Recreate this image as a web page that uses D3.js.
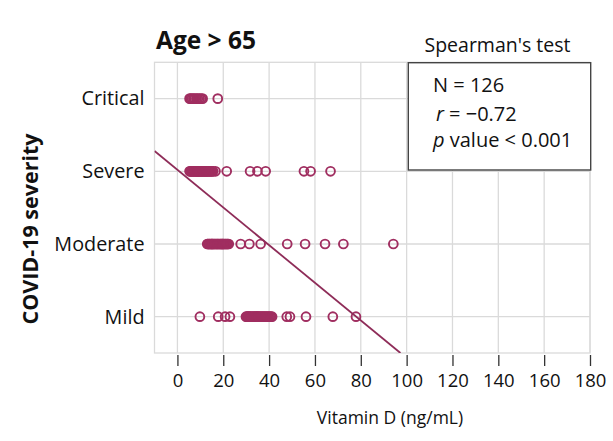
<!DOCTYPE html>
<html>
<head>
<meta charset="utf-8">
<script src="https://cdn.jsdelivr.net/npm/d3@7"></script>
<style>
  body { margin: 0; background: #ffffff; }
  text { font-family: "Open Sans", "Noto Sans", sans-serif; fill: #111; }
</style>
</head>
<body>
<svg id="chart" width="613" height="441"></svg>
<script>
// severity levels, bottom to top
const categories = ["Mild", "Moderate", "Severe", "Critical"];

// vitamin D values (ng/mL), one array per severity level
const critical = [5.3, 5.8, 6.4, 7.0, 7.6, 8.3, 8.9, 9.6, 10.3, 11.0, 17.6];
const severe = [5.3, 5.6, 6.0, 6.3, 6.7, 7.0, 7.4, 7.7, 8.1, 8.4, 8.8, 9.0, 9.1, 9.5, 9.8,
                10.2, 10.5, 10.9, 11.2, 11.6, 11.9, 12.3, 12.7, 13.0, 13.4, 13.8, 14.2,
                14.7, 15.1, 15.6, 16.6, 21.5, 31.7, 34.9, 38.5, 55.2, 58.1, 66.8];
const moderate = [13.0, 13.3, 13.6, 13.9, 14.2, 14.5, 14.9, 15.0, 15.2, 15.5, 15.8, 16.1,
                  16.4, 16.8, 17.1, 17.4, 17.7, 18.0, 18.4, 18.7, 19.0, 19.3, 19.5, 19.7,
                  20.0, 20.3, 20.7, 21.0, 21.3, 21.7, 22.0, 22.4, 27.6, 31.4, 36.3, 47.9,
                  55.7, 64.4, 72.4, 94.2];
const mild = [9.8, 17.8, 20.8, 22.9, 29.9, 30.3, 30.8, 31.0, 31.2, 31.7, 32.1, 32.6, 33.0,
              33.5, 33.9, 34.4, 34.8, 35.0, 35.3, 35.7, 36.2, 36.6, 37.1, 37.5, 38.0, 38.4,
              38.9, 39.3, 39.8, 40.3, 40.8, 41.3, 47.7, 49.1, 56.1, 67.8, 77.9];

const xTicks = [0, 20, 40, 60, 80, 100, 120, 140, 160, 180];

// fitted line: severity level = intercept + slope * vitamin D
const fitIntercept = 3.02;
const fitSlope = -0.0259;

const statsLines = ["N = 126", "r = \u22120.72", "p value < 0.001"];

// ------------------------------------------------------------------
const svg = d3.select("#chart");
const margin = {left: 154.5, right: 23, top: 62.3, bottom: 88};
const W = 613 - margin.left - margin.right;
const H = 441 - margin.top - margin.bottom;

const x = d3.scaleLinear().domain([-10, 180]).range([0, W]);
const y = d3.scaleLinear().domain([0.5, 4.5]).range([H, 0]);

const g = svg.append("g").attr("transform", `translate(${margin.left},${margin.top})`);

svg.append("defs").append("clipPath").attr("id", "clip")
  .append("rect").attr("width", W).attr("height", H);

const gridColor = "#dadada";

// panel border
g.append("rect").attr("width", W).attr("height", H)
  .attr("fill", "#fff").attr("stroke", gridColor).attr("stroke-width", 1.3);

// grid lines
g.selectAll("line.vgrid").data(xTicks).join("line")
  .attr("class", "vgrid")
  .attr("x1", d => x(d)).attr("x2", d => x(d))
  .attr("y1", 0).attr("y2", H)
  .attr("stroke", gridColor).attr("stroke-width", 1.3);

g.selectAll("line.hgrid").data(categories).join("line")
  .attr("class", "hgrid")
  .attr("x1", 0).attr("x2", W)
  .attr("y1", (d, i) => y(i + 1)).attr("y2", (d, i) => y(i + 1))
  .attr("stroke", gridColor).attr("stroke-width", 1.3);

// points
const groups = [mild, moderate, severe, critical];
const pts = [];
groups.forEach((arr, i) => arr.forEach(v => pts.push({v: v, level: i + 1})));

const markColor = "#a02e60";
g.append("g").selectAll("circle").data(pts).join("circle")
  .attr("cx", d => x(d.v)).attr("cy", d => y(d.level))
  .attr("r", 4.4)
  .attr("fill", "none")
  .attr("stroke", markColor).attr("stroke-width", 1.9);

// regression line, clipped to the panel
const xEnd = (0.5 - fitIntercept) / fitSlope;
g.append("line")
  .attr("clip-path", "url(#clip)")
  .attr("x1", x(-10)).attr("y1", y(fitIntercept + fitSlope * -10))
  .attr("x2", x(xEnd)).attr("y2", y(0.5))
  .attr("stroke", "#8e2c58").attr("stroke-width", 1.8);

// x axis
const xAxis = g.append("g").attr("transform", `translate(0,${H + 2})`)
  .call(d3.axisBottom(x).tickValues(xTicks).tickSize(11).tickPadding(8));
xAxis.select(".domain").remove();
xAxis.selectAll(".tick line").attr("stroke", "#333").attr("stroke-width", 1.3);
xAxis.selectAll(".tick text").attr("font-size", 18.5).attr("fill", "#111")
  .attr("font-family", "Open Sans, Noto Sans, sans-serif");

// y axis (labels only)
const yAxis = g.append("g")
  .call(d3.axisLeft(y).tickValues([1, 2, 3, 4]).tickSize(0).tickPadding(10)
    .tickFormat(d => categories[d - 1]));
yAxis.select(".domain").remove();
yAxis.selectAll(".tick text").attr("font-size", 19.8).attr("fill", "#111")
  .attr("font-family", "Open Sans, Noto Sans, sans-serif");

// axis titles
svg.append("text")
  .attr("x", 390).attr("y", 424)
  .attr("text-anchor", "middle").attr("font-size", 17.5)
  .text("Vitamin D (ng/mL)");

svg.append("text")
  .attr("transform", "translate(38,229) rotate(-90)")
  .attr("text-anchor", "middle").attr("font-size", 21.5).attr("font-weight", "bold")
  .text("COVID-19 severity");

// title
svg.append("text")
  .attr("x", 156).attr("y", 48.5)
  .attr("font-size", 24.5).attr("font-weight", "bold")
  .text("Age > 65");

// stats box
svg.append("text")
  .attr("x", 497.5).attr("y", 51.5)
  .attr("text-anchor", "middle").attr("font-size", 19.5)
  .text("Spearman's test");

svg.append("rect")
  .attr("x", 408.3).attr("y", 62.7).attr("width", 182.4).attr("height", 107.3)
  .attr("fill", "#fff").attr("stroke", "#444").attr("stroke-width", 1.4);

const statsY = [92, 120.5, 147];
const st = svg.append("g").attr("font-size", 20);
st.append("text").attr("x", 433).attr("y", statsY[0]).text(statsLines[0]);

const r = st.append("text").attr("x", 436).attr("y", statsY[1]);
r.append("tspan").attr("font-style", "italic").text(statsLines[1].slice(0, 1));
r.append("tspan").text(statsLines[1].slice(1));

const p = st.append("text").attr("x", 433).attr("y", statsY[2]);
p.append("tspan").attr("font-style", "italic").text(statsLines[2].slice(0, 1));
p.append("tspan").text(statsLines[2].slice(1));
</script>
</body>
</html>
